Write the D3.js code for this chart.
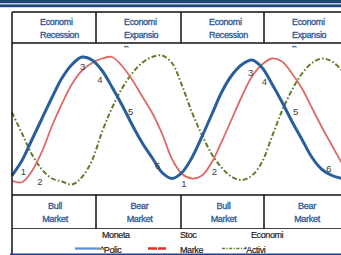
<!DOCTYPE html>
<html>
<head>
<meta charset="utf-8">
<script src="https://cdn.jsdelivr.net/npm/d3@7"></script>
<style>
  html, body { margin: 0; padding: 0; background: #fff; }
  svg { display: block; }
  text { font-family: "Liberation Sans", Arial, sans-serif; }
</style>
</head>
<body>
<svg id="chart" width="341" height="255"></svg>
<script>
'use strict';

// phase columns (header and footer rows), bounds in time units
const topLabels = [["Economi", "Recession"], ["Economi", "Expansio", "n"], ["Economi", "Recession"], ["Economi", "Expansio", "n"]];
const bottomLabels = [["Bull", "Market"], ["Bear", "Market"], ["Bull", "Market"], ["Bear", "Market"]];
const phaseBounds = [0, 8.4, 16.9, 25.2, 33.6];

// series values, index 0-100, one per time step
const monetary = [13, 23, 37, 51, 65, 78, 87, 92, 90, 83, 72, 60, 47, 35, 25, 15, 11, 15, 25, 39, 54, 69, 80, 87, 90, 85, 74, 62, 49, 37, 25, 17, 13, 11];
const stocks   = [9.5, 8.5, 16, 29, 46, 61, 74, 83, 88, 91, 92, 86, 77, 66, 55, 41, 24, 14, 11, 13, 22, 36, 51, 66, 79, 87, 91, 89, 81, 71, 58, 45, 33, 21];
const economy  = [55, 41, 27, 17, 11, 9, 7, 12, 23, 42, 58, 71, 81, 88, 92, 93, 88, 73, 55, 40, 27, 18, 12, 10, 13, 22, 39, 56, 70, 81, 88, 91, 89, 83];

// numbered markers along the cycle
const markers = [
    {n: "1", t: 1.13, v: 16}, {n: "2", t: 2.8, v: 9}, {n: "3", t: 7.07, v: 85.5},
    {n: "4", t: 8.8, v: 77}, {n: "5", t: 11.87, v: 56}, {n: "6", t: 14.57, v: 19.5},
    {n: "1", t: 17.2, v: 8}, {n: "2", t: 20.23, v: 15.5}, {n: "3", t: 23.87, v: 82},
    {n: "4", t: 25.23, v: 76}, {n: "5", t: 28.37, v: 56}, {n: "6", t: 31.7, v: 17.5}
];

const legendNames = [["Moneta", "^Polic"], ["Stoc", "Marke"], ["Economi", "'Activi"]];

const svg = d3.select("#chart");
const W = 341, H = 255;

let x = d3.scaleLinear().domain([0, 33]).range([12, 342]);
let y = d3.scaleLinear().domain([0, 100]).range([195, 45]);

const blueText = "#2b5897";

// top banner
svg.append("rect").attr("x", 0).attr("y", 0).attr("width", W).attr("height", 3.3).attr("fill", "#1f4878");
svg.append("rect").attr("x", 0).attr("y", 4.4).attr("width", W).attr("height", 2.8).attr("fill", "#1f4878");

// clip for header cells
svg.append("clipPath").attr("id", "headClip")
    .append("rect").attr("x", 0).attr("y", 12).attr("width", W).attr("height", 35.5);

// header text
let head = svg.append("g").attr("clip-path", "url(#headClip)");
topLabels.forEach((lines, i) => {
    let t = head.append("text")
        .attr("fill", blueText)
        .attr("stroke", blueText).attr("stroke-width", 0.3)
        .attr("font-size", 9)
        .attr("letter-spacing", -0.35);
    lines.forEach((s, j) => {
        t.append("tspan")
            .attr("x", x(phaseBounds[i]) + 28)
            .attr("y", 25 + j * 13)
            .text(s);
    });
});

// curves
let line = d3.line()
    .x((d, i) => x(i))
    .y(d => y(d))
    .curve(d3.curveCatmullRom.alpha(0.5));

svg.append("path").datum(economy)
    .attr("d", line).attr("fill", "none")
    .attr("stroke", "#64792b").attr("stroke-width", 2)
    .attr("stroke-dasharray", "5,2.2,1.6,2.2");

svg.append("path").datum(stocks)
    .attr("d", line).attr("fill", "none")
    .attr("stroke", "#dc6b66").attr("stroke-width", 1.8);

svg.append("path").datum(monetary)
    .attr("d", line).attr("fill", "none")
    .attr("stroke", "#2a5f9c").attr("stroke-width", 3);

// numbered markers
svg.selectAll("text.marker").data(markers).enter()
    .append("text").attr("class", "marker")
    .attr("x", d => x(d.t)).attr("y", d => y(d.v))
    .attr("text-anchor", "middle").attr("dominant-baseline", "central")
    .attr("font-size", 9.5).attr("fill", "#404040")
    .text(d => d.n);

// table grid
const grid = svg.append("g").attr("stroke", "#111").attr("fill", "none");
grid.append("line").attr("x1", 12).attr("x2", W).attr("y1", 12).attr("y2", 12).attr("stroke-width", 1.5);
grid.append("line").attr("x1", 12).attr("x2", W).attr("y1", 43).attr("y2", 43).attr("stroke-width", 1.5);
grid.append("line").attr("x1", 12).attr("x2", W).attr("y1", 195).attr("y2", 195).attr("stroke-width", 1.5);
grid.append("line").attr("x1", 12).attr("x2", W).attr("y1", 228.5).attr("y2", 228.5).attr("stroke-width", 1).attr("stroke", "#444");
grid.append("line").attr("x1", 12).attr("x2", 12).attr("y1", 12).attr("y2", H).attr("stroke-width", 1.5);
phaseBounds.slice(1).forEach(b => {
    grid.append("line").attr("x1", x(b)).attr("x2", x(b)).attr("y1", 12).attr("y2", 43).attr("stroke-width", 1.5);
    grid.append("line").attr("x1", x(b)).attr("x2", x(b)).attr("y1", 195).attr("y2", 229).attr("stroke-width", 1.5);
});

// footer text
bottomLabels.forEach((lines, i) => {
    let t = svg.append("text")
        .attr("fill", blueText)
        .attr("stroke", blueText).attr("stroke-width", 0.3)
        .attr("font-size", 9)
        .attr("letter-spacing", -0.3)
        .attr("text-anchor", "middle");
    lines.forEach((s, j) => {
        t.append("tspan")
            .attr("x", (x(phaseBounds[i]) + x(phaseBounds[i + 1])) / 2 + 1)
            .attr("y", 208.5 + j * 13)
            .text(s);
    });
});

// legend
const legendSwatches = [
    {x1: 75, x2: 100, color: "#5b8fcf", width: 2.2, dash: null},
    {x1: 148, x2: 175, color: "#e0302a", width: 2.4, dash: "9,1,8"},
    {x1: 222, x2: 246, color: "#64792b", width: 1.6, dash: "3,1.5,1.2,1.5"}
];
const legendTextX = [102, 180, 251];
const legendTextX2 = [100, 180, 245];
legendSwatches.forEach((s, i) => {
    svg.append("line")
        .attr("x1", s.x1).attr("x2", s.x2).attr("y1", 248.5).attr("y2", 248.5)
        .attr("stroke", s.color).attr("stroke-width", s.width)
        .attr("stroke-dasharray", s.dash);
    svg.append("text").attr("x", legendTextX[i]).attr("y", 238)
        .attr("font-size", 9).attr("letter-spacing", -0.4).attr("fill", "#222")
        .attr("stroke", "#222").attr("stroke-width", 0.2)
        .text(legendNames[i][0]);
    svg.append("text").attr("x", legendTextX2[i]).attr("y", 252.5)
        .attr("font-size", 9).attr("letter-spacing", -0.4).attr("fill", "#222")
        .attr("stroke", "#222").attr("stroke-width", 0.2)
        .text(legendNames[i][1]);
});

// bottom rule
svg.append("line").attr("x1", 10).attr("x2", W).attr("y1", 254.3).attr("y2", 254.3)
    .attr("stroke", "#1f3f98").attr("stroke-width", 1.4);
</script>
</body>
</html>
